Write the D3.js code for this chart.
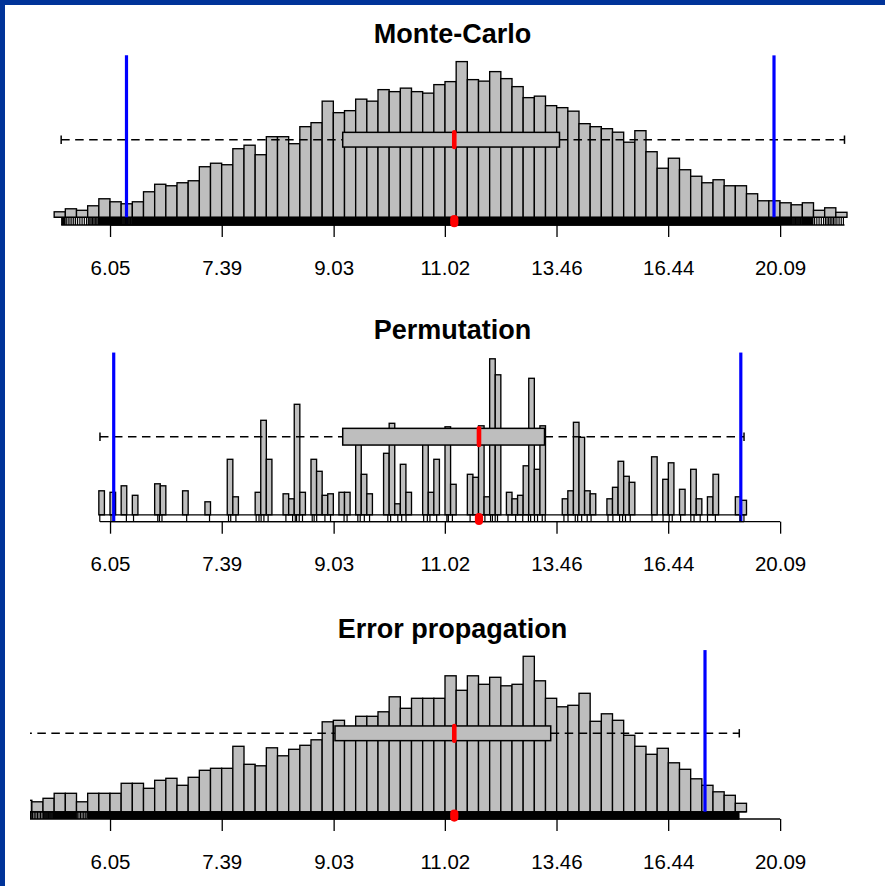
<!DOCTYPE html>
<html>
<head>
<meta charset="utf-8">
<script src="https://cdn.jsdelivr.net/npm/d3@7"></script>
<style>
  html, body { margin: 0; padding: 0; background: #fff; }
  svg { display: block; }
</style>
</head>
<body>
<svg id="chart" width="885" height="886"></svg>
<script>
// ---------- data ----------
// Axis ticks (values are exp(1.8), exp(2.0), ..., exp(3.0))
const tickValues = [6.05, 7.39, 9.03, 11.02, 13.46, 16.44, 20.09];
const tickLabels = ["6.05", "7.39", "9.03", "11.02", "13.46", "16.44", "20.09"];

// Monte-Carlo: histogram of log-values, bins of 0.02 starting at ln = 1.70
const mcBinStart = 1.70;
const mcBinWidth = 0.02;
const mcCounts = [11, 17, 14, 23, 37, 31, 27, 31, 51, 66,
                  63, 69, 73, 101, 108, 105, 137, 144, 125, 161,
                  161, 147, 181, 189, 232, 209, 213, 236, 232, 255,
                  251, 258, 251, 248, 265, 271, 311, 275, 272, 291,
                  277, 261, 239, 242, 223, 219, 212, 187, 181, 177,
                  170, 150, 173, 131, 98, 118, 95, 82, 69, 75,
                  63, 63, 47, 33, 33, 29, 25, 29, 14, 19, 10];
// min, lower quartile, median, upper quartile, max
const mcSummary = [5.543, 9.178, 11.208, 13.532, 22.545];
const mcLimits = [6.231, 19.871];

// Permutation: histogram of log-values, bins of 0.01 starting at ln = 1.78
const permBinStart = 1.78;
const permBinWidth = 0.01;
const permCounts = [48, 0, 45, 0, 58, 0, 39, 0, 0, 0,
                    62, 58, 0, 0, 0, 48, 0, 0, 0, 26,
                    0, 0, 0, 111, 36, 0, 0, 0, 45, 189,
                    111, 0, 0, 42, 32, 221, 45, 0, 111, 87,
                    39, 42, 0, 45, 45, 0, 156, 81, 42, 0,
                    0, 123, 183, 22, 101, 45, 0, 0, 150, 45,
                    111, 0, 176, 61, 0, 0, 81, 75, 178, 36,
                    312, 280, 0, 45, 32, 39, 98, 273, 91, 178,
                    0, 0, 0, 32, 48, 185, 155, 48, 42, 0,
                    0, 32, 55, 107, 77, 65, 0, 0, 0, 116,
                    0, 71, 104, 0, 51, 0, 91, 32, 0, 36,
                    81, 0, 0, 0, 36, 29];
// distinct permutation estimates (rug)
const permValues = [5.94, 6.06, 6.23, 6.31, 6.59, 6.61, 6.64, 6.94, 7.23, 7.48,
                    7.51, 7.58, 7.86, 7.90, 7.93, 7.97, 8.03, 8.29, 8.39, 8.43,
                    8.45, 8.49, 8.54, 8.69, 8.72, 8.76, 8.89, 8.98, 9.20, 9.25,
                    9.43, 9.47, 9.54, 9.63, 9.95, 10.00, 10.13, 10.20, 10.28, 10.61,
                    10.68, 10.73, 10.86, 11.06, 11.09, 11.17, 11.53, 11.65, 11.76, 11.84,
                    11.96, 12.00, 12.06, 12.11, 12.34, 12.51, 12.67, 12.80, 12.85, 12.94,
                    13.01, 13.12, 13.19, 13.64, 13.74, 13.92, 13.98, 14.08, 14.22, 14.32,
                    14.76, 14.89, 15.07, 15.15, 15.23, 15.36, 15.97, 16.29, 16.47, 16.56,
                    16.81, 17.12, 17.22, 17.41, 17.64, 17.89, 18.70, 18.83];
const permSummary = [5.942, 9.178, 11.715, 13.174, 18.832];
const permLimits = [6.090, 18.724];

// Error propagation: histogram of log-values, bins of 0.02 starting at ln = 1.64
const epBinStart = 1.64;
const epBinWidth = 0.02;
const epCounts = [23, 20, 27, 37, 37, 20, 37, 37, 37, 57,
                  57, 47, 63, 67, 53, 69, 83, 87, 87, 131,
                  95, 92, 128, 112, 125, 133, 144, 180, 183, 160,
                  191, 191, 200, 230, 207, 227, 227, 227, 272, 243,
                  272, 255, 269, 252, 255, 311, 262, 227, 210, 213,
                  237, 181, 196, 183, 153, 131, 115, 127, 98, 85,
                  66, 53, 40, 33, 17];
const epSummary = [5.18, 9.052, 11.208, 13.321, 18.673];
const epLimits = [17.561];

// ---------- layout ----------
const W = 885, H = 886;
const FONT = "'Liberation Sans', Arial, Helvetica, sans-serif";
const GREY = "#bebebe";
const plotLeft = 30, plotRight = 875;
const rugPerTick = 3;   // binned samples represented by one rug tick

const panels = [
  { title: "Monte-Carlo", start: mcBinStart, step: mcBinWidth, counts: mcCounts,
    summary: mcSummary, limits: mcLimits, rug: null,
    titleY: 43.3, base: 217.3, top: 61.6, axisY: 225, boxMid: 139.7, boxH: 14.7, dotY: 221.2 },
  { title: "Permutation", start: permBinStart, step: permBinWidth, counts: permCounts,
    summary: permSummary, limits: permLimits, rug: permValues,
    titleY: 339.3, base: 514.8, top: 358.8, axisY: 521.7, boxMid: 436.7, boxH: 16.7, dotY: 519 },
  { title: "Error propagation", start: epBinStart, step: epBinWidth, counts: epCounts,
    summary: epSummary, limits: epLimits, rug: null,
    titleY: 637.7, base: 811.8, top: 656.3, axisY: 819, boxMid: 733.3, boxH: 14.7, dotY: 815.6 }
];

const svg = d3.select("#chart");
svg.append("rect").attr("width", W).attr("height", H).attr("fill", "#fff");

// shared log axis
const x = d3.scaleLog().base(Math.E)
  .domain([Math.exp(1.8), Math.exp(3.0)])
  .range([110, 780]);
const xl = v => x(Math.exp(v));   // position of a log-value

const defs = svg.append("defs");
defs.append("clipPath").attr("id", "plot-clip")
  .append("rect").attr("x", plotLeft).attr("y", 0)
  .attr("width", plotRight - plotLeft).attr("height", H);

function drawPanel(p) {
  const g = svg.append("g");
  const maxCount = d3.max(p.counts);
  const y = d3.scaleLinear().domain([0, maxCount]).range([p.base, p.top]);
  const [vMin, q1, med, q3, vMax] = p.summary;

  const plot = g.append("g").attr("clip-path", "url(#plot-clip)");

  // histogram bars
  const bins = p.counts.map((c, i) => ({ lo: p.start + i * p.step, hi: p.start + (i + 1) * p.step, c }));
  plot.selectAll("rect.bar")
    .data(bins.filter(b => b.c > 0))
    .join("rect")
    .attr("class", "bar")
    .attr("x", b => xl(b.lo))
    .attr("width", b => xl(b.hi) - xl(b.lo))
    .attr("y", b => y(b.c))
    .attr("height", b => y(0) - y(b.c))
    .attr("fill", GREY)
    .attr("stroke", "#000")
    .attr("stroke-width", 1.35);
  // empty bins collapse onto the baseline
  plot.append("line")
    .attr("x1", xl(bins[0].lo)).attr("x2", xl(bins[bins.length - 1].hi))
    .attr("y1", y(0)).attr("y2", y(0))
    .attr("stroke", "#000").attr("stroke-width", 1.35);

  // horizontal box plot
  const bTop = p.boxMid - p.boxH / 2, bBot = p.boxMid + p.boxH / 2;
  [[vMin, q1], [q3, vMax]].forEach(([a, b]) => {
    plot.append("line")
      .attr("x1", x(a)).attr("x2", x(b))
      .attr("y1", p.boxMid).attr("y2", p.boxMid)
      .attr("stroke", "#000").attr("stroke-width", 1.5)
      .attr("stroke-dasharray", "8.5,5.5");
  });
  [vMin, vMax].forEach(v => {
    plot.append("line")
      .attr("x1", x(v)).attr("x2", x(v))
      .attr("y1", p.boxMid - 4.2).attr("y2", p.boxMid + 4.2)
      .attr("stroke", "#000").attr("stroke-width", 1.5);
  });
  plot.append("rect")
    .attr("x", x(q1)).attr("width", x(q3) - x(q1))
    .attr("y", bTop).attr("height", p.boxH)
    .attr("fill", GREY).attr("stroke", "#000").attr("stroke-width", 1.5);
  plot.append("line")
    .attr("x1", x(med)).attr("x2", x(med))
    .attr("y1", bTop).attr("y2", bBot)
    .attr("stroke", "#ff0000").attr("stroke-width", 4.6)
    .attr("stroke-linecap", "round");

  // interval limits
  plot.selectAll("line.limit")
    .data(p.limits)
    .join("line")
    .attr("class", "limit")
    .attr("x1", d => x(d)).attr("x2", d => x(d))
    .attr("y1", y(maxCount * 1.04)).attr("y2", p.axisY)
    .attr("stroke", "#0000ff").attr("stroke-width", 3.2);

  // rug: explicit values, or the binned sample spread across each bin
  let rugLogs = [];
  if (p.rug) {
    rugLogs = p.rug.map(v => Math.log(v));
  } else {
    const lnMin = Math.log(vMin), lnMax = Math.log(vMax);
    bins.forEach(b => {
      const lo = Math.max(b.lo, lnMin), hi = Math.min(b.hi, lnMax);
      if (hi <= lo || b.c === 0) return;
      const n = Math.ceil(b.c / rugPerTick);
      for (let i = 0; i < n; i++) rugLogs.push(lo + (i + 0.5) * (hi - lo) / n);
    });
  }
  const rugPath = rugLogs.map(v => `M${xl(v).toFixed(2)},${p.axisY}V${p.base}`).join("");
  plot.append("path").attr("d", rugPath)
    .attr("fill", "none").attr("stroke", "#000").attr("stroke-width", 1.2);
  plot.append("line")
    .attr("x1", x(vMin)).attr("x2", x(vMax))
    .attr("y1", p.axisY).attr("y2", p.axisY)
    .attr("stroke", "#000").attr("stroke-width", 1.3);

  // x axis
  g.append("line")
    .attr("x1", x(tickValues[0])).attr("x2", x(tickValues[tickValues.length - 1]))
    .attr("y1", p.axisY).attr("y2", p.axisY)
    .attr("stroke", "#000").attr("stroke-width", 1.3);
  const axis = d3.axisBottom(x)
    .tickValues(tickValues)
    .tickFormat((d, i) => tickLabels[i])
    .tickSizeInner(12).tickSizeOuter(0);
  const ag = g.append("g")
    .attr("transform", `translate(0,${p.axisY})`)
    .call(axis)
    .attr("font-family", FONT)
    .attr("font-size", 20.5);
  ag.select(".domain").remove();
  ag.selectAll(".tick line").attr("stroke", "#000").attr("stroke-width", 1.3);
  ag.selectAll(".tick text")
    .attr("fill", "#000")
    .attr("y", 49.5)
    .attr("dy", null);

  // median marker on the axis
  g.append("line")
    .attr("x1", x(med)).attr("x2", x(med))
    .attr("y1", p.dotY - 2).attr("y2", p.dotY + 2)
    .attr("stroke", "#ff0000").attr("stroke-width", 8.2)
    .attr("stroke-linecap", "round");

  // title
  g.append("text")
    .attr("x", (plotLeft + plotRight) / 2)
    .attr("y", p.titleY)
    .attr("text-anchor", "middle")
    .attr("font-family", FONT)
    .attr("font-weight", "bold")
    .attr("font-size", 27)
    .attr("fill", "#000")
    .text(p.title);
}

panels.forEach(drawPanel);

// frame
svg.append("rect").attr("x", 0).attr("y", 0).attr("width", W).attr("height", 5).attr("fill", "#003399");
svg.append("rect").attr("x", 0).attr("y", 0).attr("width", 5).attr("height", H).attr("fill", "#003399");
</script>
</body>
</html>
